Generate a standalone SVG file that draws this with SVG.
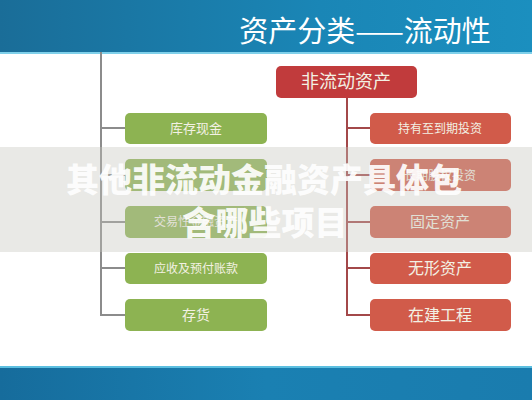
<svg xmlns="http://www.w3.org/2000/svg" width="532" height="400" viewBox="0 0 532 400">
<defs>
<linearGradient id="bt" x1="0" y1="0" x2="1" y2="0">
<stop offset="0" stop-color="#1a6d98"/>
<stop offset="0.6" stop-color="#1a86b6"/>
<stop offset="1" stop-color="#1b8fbf"/>
</linearGradient>
<linearGradient id="bb" x1="0" y1="0" x2="1" y2="0">
<stop offset="0" stop-color="#166c9c"/>
<stop offset="0.5" stop-color="#1a80b2"/>
<stop offset="1" stop-color="#1a7cae"/>
</linearGradient>
<style>
.g{fill:#8db352;}
.r{fill:#d15b4a;}
.rt{fill:#c13b3c;}
.t{font-family:"Noto Sans CJK SC","Noto Sans",sans-serif;fill:#f3f1e4;text-anchor:middle;}
.lg{stroke:#8c8c8c;stroke-width:2;fill:none;}
.lr{stroke:#a3484a;stroke-width:2;fill:none;}
.ov{font-family:"Noto Sans CJK SC","Noto Sans",sans-serif;font-weight:900;font-size:33px;fill:#ffffff;fill-opacity:0.92;text-anchor:middle;}
</style>
</defs>
<rect x="0" y="0" width="532" height="400" fill="#ffffff"/>
<rect x="0" y="0" width="532" height="52" fill="url(#bt)"/>
<rect x="0" y="52" width="532" height="2" fill="#7fd0ea"/>
<text x="365" y="42" font-family="Noto Sans CJK SC,sans-serif" font-size="29" fill="#ffffff" text-anchor="middle">资产分类——流动性</text>
<rect x="0" y="366" width="532" height="2" fill="#5cbfe0"/>
<rect x="0" y="368" width="532" height="32" fill="url(#bb)"/>

<g id="connectors">
<path class="lg" d="M101 52 V316 M101 128 H125 M101 175 H125 M101 222 H125 M101 268 H125 M101 315 H125"/>
<path class="lr" d="M347 98 V316 M347 128 H370 M347 175 H370 M347 222 H370 M347 268 H370 M347 315 H370"/>
</g>

<g id="n-cash"><rect class="g" x="125" y="113" width="142" height="31" rx="5"/><text class="t" x="196" y="133" font-size="13">库存现金</text></g>
<g id="n-green2"><rect class="g" x="125" y="159" width="142" height="32" rx="5"/></g>
<g id="n-trade"><rect class="g" x="125" y="206" width="142" height="32" rx="5"/><text class="t" x="196" y="226" font-size="12">交易性金融资产</text></g>
<g id="n-recv"><rect class="g" x="125" y="253" width="142" height="31" rx="5"/><text class="t" x="196" y="273" font-size="12">应收及预付账款</text></g>
<g id="n-inv"><rect class="g" x="125" y="299" width="142" height="32" rx="5"/><text class="t" x="196" y="320" font-size="14">存货</text></g>

<g id="n-noncur"><rect class="rt" x="276" y="66" width="141" height="32" rx="5"/><text class="t" x="346" y="88" font-size="18">非流动资产</text></g>
<g id="n-htm"><rect class="r" x="370" y="113" width="141" height="31" rx="5"/><text class="t" x="440" y="133" font-size="12">持有至到期投资</text></g>
<g id="n-lte"><rect class="r" x="370" y="159" width="141" height="32" rx="5"/><text class="t" x="440" y="180" font-size="12">长期股权投资</text></g>
<g id="n-fixed"><rect class="r" x="370" y="206" width="141" height="32" rx="5"/><text class="t" x="440" y="227" font-size="15">固定资产</text></g>
<g id="n-intang"><rect class="r" x="370" y="253" width="141" height="31" rx="5"/><text class="t" x="440" y="274" font-size="16">无形资产</text></g>
<g id="n-cip"><rect class="r" x="370" y="299" width="141" height="32" rx="5"/><text class="t" x="440" y="321" font-size="16">在建工程</text></g>

<rect x="0" y="147" width="532" height="105" fill="#c4c4bc" fill-opacity="0.38"/>
<text class="ov" x="264" y="192">其他非流动金融资产具体包</text>
<text class="ov" x="265" y="235">含哪些项目</text>
</svg>
